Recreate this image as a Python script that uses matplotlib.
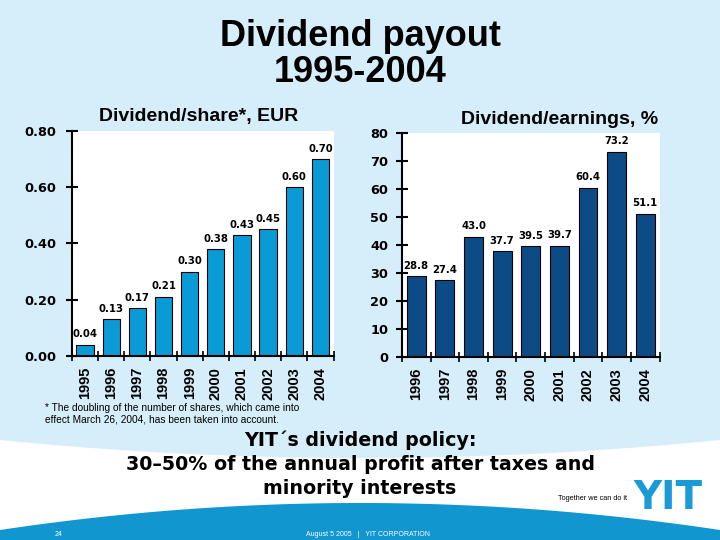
import matplotlib
matplotlib.use("Agg")
import matplotlib.pyplot as plt
import numpy as np

plt.rcParams["font.family"] = ["Liberation Sans", "DejaVu Sans"]

# data
share_years = ["1995", "1996", "1997", "1998", "1999", "2000", "2001", "2002", "2003", "2004"]
share_values = [0.04, 0.13, 0.17, 0.21, 0.30, 0.38, 0.43, 0.45, 0.60, 0.70]
earn_years = ["1996", "1997", "1998", "1999", "2000", "2001", "2002", "2003", "2004"]
earn_values = [28.8, 27.4, 43.0, 37.7, 39.5, 39.7, 60.4, 73.2, 51.1]

BG = "#d6eefa"
LIGHT_BAR = "#0a9bd7"
DARK_BAR = "#0d4b87"
BAND = "#1296d0"

fig = plt.figure(figsize=(7.2, 5.4), dpi=100)

# slide background in pixel coordinates
bg = fig.add_axes([0, 0, 1, 1], zorder=-10)
bg.set_xlim(0, 720)
bg.set_ylim(540, 0)
bg.axis("off")
bg.add_patch(plt.Rectangle((0, 0), 720, 540, color=BG, zorder=0))
xs = np.linspace(0, 720, 200)
u = ((xs - 360) / 360) ** 2
bg.fill_between(xs, 458 - 18 * u, 540, color="white", lw=0, zorder=1)
bg.fill_between(xs, 503 + 27 * u, 540, color=BAND, lw=0, zorder=2)

bg.text(360, 37, "Dividend payout", ha="center", va="center", fontsize=26, fontweight="bold")
bg.text(360, 73, "1995-2004", ha="center", va="center", fontsize=26, fontweight="bold")
bg.text(199, 116, "Dividend/share*, EUR", ha="center", va="center", fontsize=14, fontweight="bold")
bg.text(560, 119, "Dividend/earnings, %", ha="center", va="center", fontsize=14, fontweight="bold")

bg.text(45, 408, "* The doubling of the number of shares, which came into", ha="left", va="center", fontsize=7.3)
bg.text(45, 420, "effect March 26, 2004, has been taken into account.", ha="left", va="center", fontsize=7.3)

policy = ["YIT\u00b4s dividend policy:",
          "30\u201350% of the annual profit after taxes and",
          "minority interests"]
for k, line in enumerate(policy):
    bg.text(360, 440 + 24 * k, line, ha="center", va="center", fontsize=13.7,
            fontweight="bold", family="DejaVu Sans")

bg.text(592, 499, "Together we can do it", ha="center", va="center", fontsize=5.3)
bg.text(668, 498, "YIT", ha="center", va="center", fontsize=28, fontweight="heavy",
        color="#1a9ad6", family="DejaVu Sans")
bg.text(55, 534, "24", ha="left", va="center", fontsize=5, color="white")
bg.text(368, 535, "August 5 2005   |   YIT CORPORATION", ha="center", va="center",
        fontsize=5, color="white")


def bar_panel(rect, labels, values, color, ymax, step, fmt, tickfmt, label_pad):
    ax = fig.add_axes(rect)
    ax.set_facecolor("white")
    pos = np.arange(len(values))
    ax.bar(pos, values, width=0.66, color=color, edgecolor="black", linewidth=0.8, zorder=3)
    for x, v in zip(pos, values):
        ax.annotate(fmt.format(v), (x, v), xytext=(0, 4), textcoords="offset points",
                    ha="center", va="bottom", fontsize=7.3, fontweight="bold", family="DejaVu Sans")
    ax.set_xlim(-0.5, len(values) - 0.5)
    ax.set_ylim(0, ymax)
    yt = np.arange(0, ymax + step / 2, step)
    ax.set_yticks(yt)
    ax.set_yticklabels([tickfmt.format(t) for t in yt], fontsize=9.3, fontweight="bold",
                       family="DejaVu Sans")
    ax.tick_params(axis="y", direction="inout", length=8, width=1.5, pad=label_pad)
    ax.set_xticks(np.arange(-0.5, len(values)), labels=[])
    ax.tick_params(axis="x", which="major", direction="inout", length=7, width=1.2)
    ax.set_xticks(pos, labels=labels, minor=True)
    ax.tick_params(axis="x", which="minor", length=0, pad=8)
    for t in ax.get_xticklabels(minor=True):
        t.set_rotation(90)
        t.set_fontsize(10.5)
        t.set_fontweight("bold")
    for side in ("top", "right"):
        ax.spines[side].set_visible(False)
    for side in ("left", "bottom"):
        ax.spines[side].set_linewidth(1.5)
    ax.spines["bottom"].set_zorder(4)
    return ax


bar_panel([72 / 720, 1 - 356 / 540, (333.5 - 72) / 720, (356 - 131) / 540],
          share_years, share_values, LIGHT_BAR, 0.8, 0.2, "{:.2f}", "{:.2f}", 7)
bar_panel([402 / 720, 1 - 357 / 540, (659.5 - 402) / 720, (357 - 133) / 540],
          earn_years, earn_values, DARK_BAR, 80, 10, "{:.1f}", "{:.0f}", 6)

fig.savefig("out.png", dpi=100)
